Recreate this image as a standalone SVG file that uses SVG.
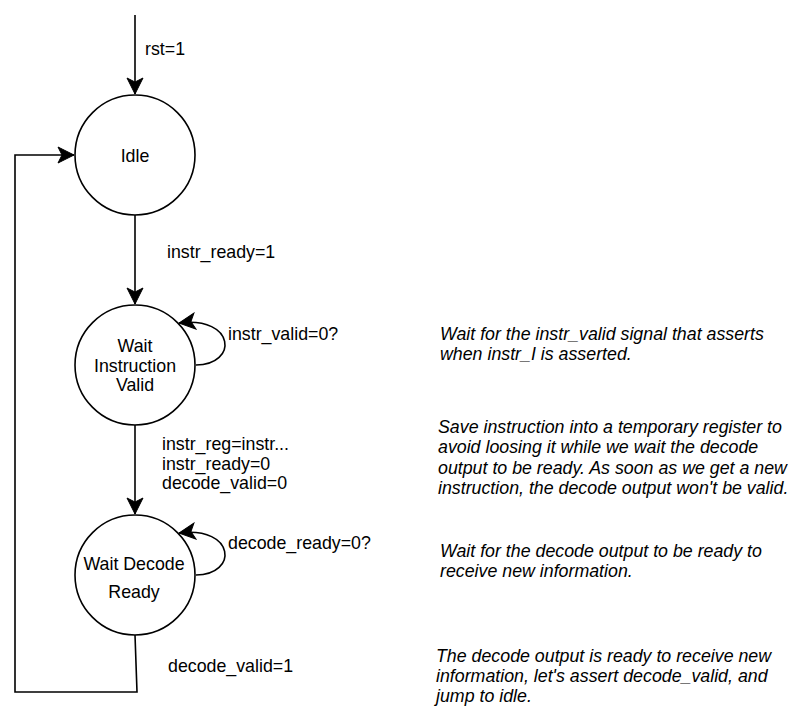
<svg xmlns="http://www.w3.org/2000/svg" width="800" height="724" viewBox="0 0 800 724">
<style>
  .st { fill: #ffffff; stroke: #000000; stroke-width: 1.6; }
  .ln { fill: none; stroke: #000000; stroke-width: 1.6; marker-end: url(#arr); }
  text { font-family: "Liberation Sans", Arial, Helvetica, sans-serif; font-size: 17.8px; fill: #000000; }
  .c { text-anchor: middle; }
  .it { font-style: italic; }
</style>
<defs>
  <marker id="arr" viewBox="-17 -9 18 18" markerWidth="18" markerHeight="18" refX="0" refY="0" orient="auto" markerUnits="userSpaceOnUse">
    <path d="M0,0 L-16,-8 L-12,0 L-16,8 Z" fill="#000000" stroke="#000000" stroke-width="1"/>
  </marker>
</defs>
<rect x="0" y="0" width="800" height="724" fill="#ffffff"/>
<g id="connectors">
  <path class="ln" d="M135,15 L135,94"/>
  <path class="ln" d="M135,215 L135,304"/>
  <path class="ln" d="M135,425 L135,514"/>
  <path class="ln" d="M196,365 C238,365 236,316 179,323"/>
  <path class="ln" d="M196,575 C238,575 236,526 179,533"/>
  <path class="ln" d="M135,635 L137,692 L15,692 L15,155 L74,155"/>
</g>
<g id="labels">
  <text x="145" y="55">rst=1</text>
  <text x="167" y="258">instr_ready=1</text>
  <text x="228" y="340">instr_valid=0?</text>
  <text x="162" y="450">instr_reg=instr...</text>
  <text x="162" y="470">instr_ready=0</text>
  <text x="162" y="489">decode_valid=0</text>
  <text x="228" y="549">decode_ready=0?</text>
  <text x="168" y="672">decode_valid=1</text>
</g>
<g id="idle">
  <circle class="st" cx="135" cy="155" r="60"/>
  <text class="c" x="135" y="162">Idle</text>
</g>
<g id="wait-instruction-valid">
  <circle class="st" cx="135" cy="365" r="60"/>
  <text class="c" x="135" y="352">Wait</text>
  <text class="c" x="135" y="372">Instruction</text>
  <text class="c" x="135" y="391">Valid</text>
</g>
<g id="wait-decode-ready">
  <circle class="st" cx="135" cy="575" r="60"/>
  <text class="c" x="134" y="570">Wait Decode</text>
  <text class="c" x="134" y="598">Ready</text>
</g>
<g id="note-1">
  <text class="it" x="440" y="340">Wait for the instr_valid signal that asserts</text>
  <text class="it" x="440" y="360">when instr_I is asserted.</text>
</g>
<g id="note-2">
  <text class="it" x="438" y="433">Save instruction into a temporary register to</text>
  <text class="it" x="438" y="453">avoid loosing it while we wait the decode</text>
  <text class="it" x="438" y="474">output to be ready. As soon as we get a new</text>
  <text class="it" x="438" y="494">instruction, the decode output won't be valid.</text>
</g>
<g id="note-3">
  <text class="it" x="440" y="557">Wait for the decode output to be ready to</text>
  <text class="it" x="440" y="577">receive new information.</text>
</g>
<g id="note-4">
  <text class="it" x="436" y="662">The decode output is ready to receive new</text>
  <text class="it" x="436" y="682">information, let's assert decode_valid, and</text>
  <text class="it" x="436" y="702">jump to idle.</text>
</g>
</svg>
